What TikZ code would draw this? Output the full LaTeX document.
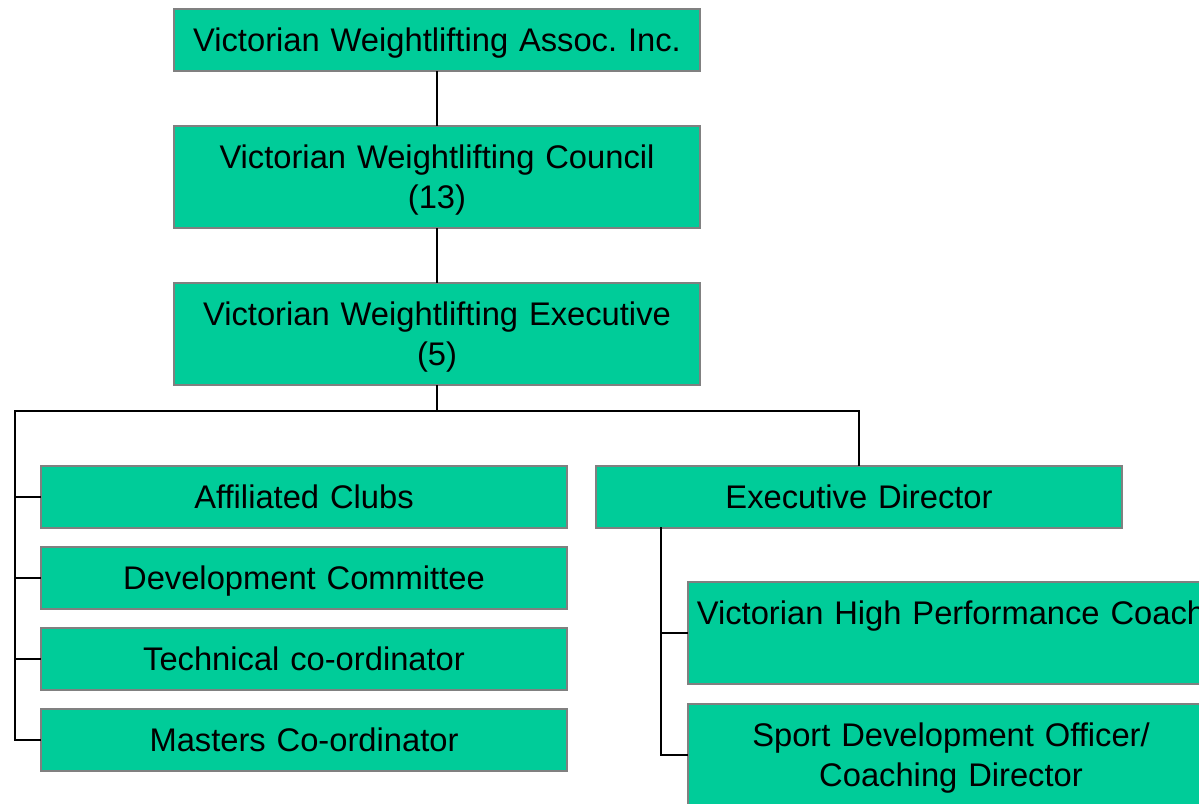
\documentclass[tikz,border=0pt]{standalone}
\usepackage{fontspec}
\setmainfont{Liberation Sans}
\frenchspacing
\definecolor{boxgreen}{HTML}{00CC99}
\definecolor{boxedge}{HTML}{808080}
\newcommand\linestrut{\rule[-8pt]{0pt}{39.6pt}}
\begin{document}
\begin{tikzpicture}[x=1pt,y=-1pt,
  orgbox/.style={draw=boxedge, fill=boxgreen, line width=1.6pt, anchor=north west,
    minimum width=526pt, minimum height=62pt, inner sep=0pt, outer sep=0pt,
    align=center, text width=522pt, font=\fontsize{32.7}{40}\selectfont},
  tallbox/.style={orgbox, minimum height=102pt},
  conn/.style={draw=black, line width=1.8pt}]
\useasboundingbox (0,0) rectangle (1199,803);
\clip (0,0) rectangle (1199,803);
\node[orgbox]  (assoc)   at (174,9)   {\linestrut Victorian Weightlifting Assoc. Inc.};
\node[tallbox] (council) at (174,126) {\linestrut Victorian Weightlifting Council\\\linestrut(13)};
\node[tallbox] (exec)    at (174,283) {\linestrut Victorian Weightlifting Executive\\\linestrut(5)};
\node[orgbox]  (ac)      at (41,466)  {\linestrut Affiliated Clubs};
\node[orgbox]  (dc)      at (41,547)  {\linestrut Development Committee};
\node[orgbox]  (tc)      at (41,628)  {\linestrut Technical co-ordinator};
\node[orgbox]  (mc)      at (41,709)  {\linestrut Masters Co-ordinator};
\node[orgbox]  (ed)      at (596,466) {\linestrut Executive Director};
\node[tallbox] (vhpc)    at (688,582) {\linestrut Victorian High Performance Coach\\\linestrut};
\node[tallbox] (sdo)     at (688,704) {\linestrut Sport Development Officer/\\\linestrut Coaching Director};
\coordinate (j)   at (437,411);
\coordinate (lt)  at (15,411);
\coordinate (edv) at (661,527);
\draw[conn] (assoc.south) -- (council.north);
\draw[conn] (council.south) -- (exec.north);
\draw[conn] (exec.south) -- (j);
\draw[conn] (j) -| (ed.north);
\draw[conn] (j) -- (lt) |- (mc.west);
\draw[conn] (lt |- ac.west) -- (ac.west);
\draw[conn] (lt |- dc.west) -- (dc.west);
\draw[conn] (lt |- tc.west) -- (tc.west);
\draw[conn] (edv) |- (sdo.west);
\draw[conn] (edv |- vhpc.west) -- (vhpc.west);
\end{tikzpicture}
\end{document}
